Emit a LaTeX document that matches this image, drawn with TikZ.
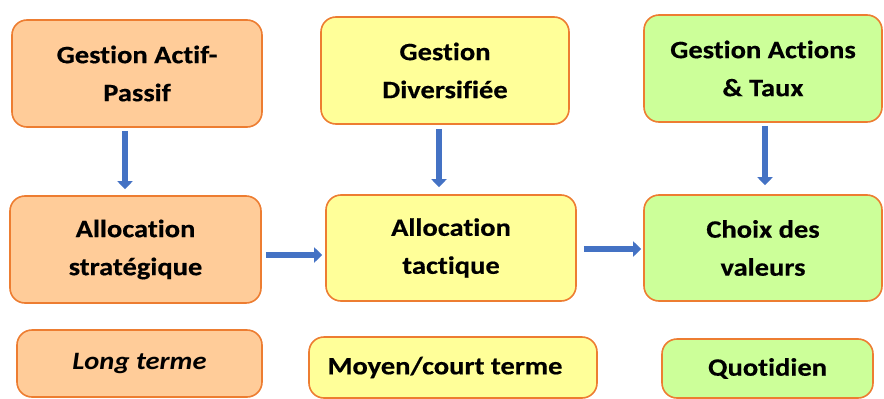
\documentclass[tikz,border=0pt]{standalone}
\usepackage{fontspec}
\setmainfont{Carlito}[FakeStretch=1.14, Ligatures=NoCommon, BoldFeatures={FakeBold=0.4}]
\usetikzlibrary{arrows.meta}
\definecolor{borderc}{HTML}{ED7D31}
\definecolor{orangef}{HTML}{FFCC99}
\definecolor{yellowf}{HTML}{FFFF99}
\definecolor{greenf}{HTML}{CCFF99}
\definecolor{arrowc}{HTML}{4472C4}
\tikzset{
  box/.style={draw=borderc, line width=1.6pt, rounded corners=15pt, align=center,
    font=\fontsize{25}{38}\selectfont\bfseries, inner sep=0pt},
  flow/.style={draw=arrowc, line width=5.5pt, -{Triangle[width=15pt,length=8pt]}}
}
\begin{document}
\begin{tikzpicture}[x=1pt,y=-1pt]
\useasboundingbox (0,0) rectangle (884,399);
\node[box, fill=orangef, minimum width=250pt, minimum height=107pt] (b1) at (137,73.5) {Gestion Actif-\\Passif};
\node[box, fill=yellowf, minimum width=248pt, minimum height=107pt] (b2) at (445,70.5) {Gestion\\Diversifiée};
\node[box, fill=greenf, minimum width=238pt, minimum height=107pt] (b3) at (763,68.5) {Gestion Actions\\\& Taux};
\node[box, fill=orangef, minimum width=251pt, minimum height=107pt] (b4) at (135.5,249.5) {Allocation\\stratégique};
\node[box, fill=yellowf, minimum width=250pt, minimum height=106pt] (b5) at (451,248) {Allocation\\tactique};
\node[box, fill=greenf, minimum width=238pt, minimum height=106pt] (b6) at (763,248) {Choix des\\valeurs};
\node[box, fill=orangef, minimum width=245pt, minimum height=67pt] (b7) at (139.5,363.5) {\itshape Long terme};
\node[box, fill=yellowf, minimum width=288pt, minimum height=61pt] (b8) at (453,367.5) {Moyen/court terme\hspace*{16pt}};
\node[box, fill=greenf, minimum width=211pt, minimum height=59pt] (b9) at (767.5,368.5) {Quotidien};
\draw[flow] ([xshift=-12pt,yshift=-3pt]b1.south) -- ([xshift=-10.5pt,yshift=6pt]b4.north);
\draw[flow] ([xshift=-6pt,yshift=-4pt]b2.south) -- ([xshift=-12pt,yshift=7pt]b5.north);
\draw[flow] ([xshift=2pt,yshift=-3pt]b3.south) -- ([xshift=2pt,yshift=9pt]b6.north);
\draw[flow] ([xshift=4pt,yshift=-5.5pt]b4.east) -- ([xshift=-3pt,yshift=-7pt]b5.west);
\draw[flow] ([xshift=7pt,yshift=-1pt]b5.east) -- ([xshift=-2pt,yshift=-1pt]b6.west);
\end{tikzpicture}
\end{document}
